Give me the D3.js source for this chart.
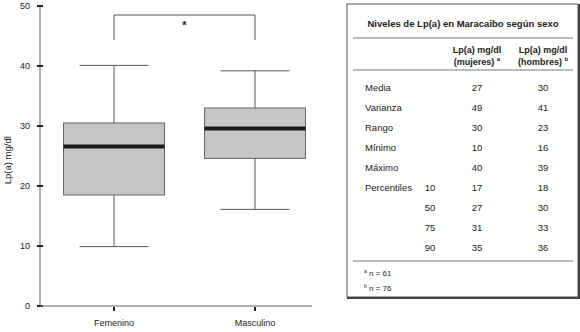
<!DOCTYPE html>
<html>
<head>
<meta charset="utf-8">
<script src="https://cdn.jsdelivr.net/npm/d3@7"></script>
<style>
	body { margin: 0; background: #fff; }
	svg { font-family: "Liberation Sans", Arial, sans-serif; }
</style>
</head>
<body>
<div id="chart"></div>
<script>
// box plot data (Lp(a) mg/dl)
const categories = ["Femenino", "Masculino"];
const whiskerLow = [9.9, 16.1];
const q1 = [18.5, 24.6];
const medians = [26.6, 29.6];
const q3 = [30.5, 33.0];
const whiskerHigh = [40.1, 39.2];
const yTicks = [0, 10, 20, 30, 40, 50];

// table data
const tableTitle = "Niveles de Lp(a) en Maracaibo según sexo";
const rowLabels = ["Media", "Varianza", "Rango", "Mínimo", "Máximo", "Percentiles", "", "", ""];
const percentileLabels = ["", "", "", "", "", "10", "50", "75", "90"];
const mujeres = [27, 49, 30, 10, 40, 17, 27, 31, 35];
const hombres = [30, 41, 23, 16, 39, 18, 30, 33, 36];
const footnotes = [["a", "n = 61"], ["b", "n = 76"]];

const svg = d3.select("#chart")
	.append("svg")
	.attr("width", 580)
	.attr("height", 332);

const y = d3.scaleLinear().domain([0, 50]).range([306, 6]);
const x = d3.scalePoint().domain(categories).range([114, 255]);
const boxHalf = 50.5, capHalf = 34.5;
const axisColor = "#666";

// y axis
svg.append("line")
	.attr("x1", 40).attr("x2", 40)
	.attr("y1", y(50)).attr("y2", y(0))
	.attr("stroke", axisColor);
svg.selectAll(".ytick")
	.data(yTicks)
	.enter()
	.append("line")
	.attr("x1", 37).attr("x2", 43)
	.attr("y1", d => y(d)).attr("y2", d => y(d))
	.attr("stroke", "#222").attr("stroke-width", 2);
svg.selectAll(".ylab")
	.data(yTicks)
	.enter()
	.append("text")
	.attr("x", 30).attr("y", d => y(d) + 3)
	.attr("text-anchor", "end")
	.attr("font-size", 9)
	.attr("fill", "#222")
	.text(d => d);

svg.append("text")
	.attr("transform", "translate(11," + y(24.3) + ") rotate(-90)")
	.attr("text-anchor", "middle")
	.attr("font-size", 9.5)
	.attr("fill", "#222")
	.text("Lp(a) mg/dl");

// x axis
svg.append("line")
	.attr("x1", 40).attr("x2", 312)
	.attr("y1", y(0)).attr("y2", y(0))
	.attr("stroke", axisColor).attr("stroke-width", 1.2);
svg.selectAll(".xtick")
	.data(categories)
	.enter()
	.append("line")
	.attr("x1", d => x(d)).attr("x2", d => x(d))
	.attr("y1", y(0) + 1).attr("y2", y(0) + 5)
	.attr("stroke", "#222").attr("stroke-width", 2);
svg.selectAll(".xlab")
	.data(categories)
	.enter()
	.append("text")
	.attr("x", d => x(d)).attr("y", 326)
	.attr("text-anchor", "middle")
	.attr("font-size", 9)
	.attr("fill", "#222")
	.text(d => d);

// boxes
const boxes = svg.selectAll(".box")
	.data(categories)
	.enter()
	.append("g");

boxes.append("line")
	.attr("x1", d => x(d)).attr("x2", d => x(d))
	.attr("y1", (d, i) => y(whiskerHigh[i])).attr("y2", (d, i) => y(whiskerLow[i]))
	.attr("stroke", "#555");
boxes.append("line")
	.attr("x1", d => x(d) - capHalf).attr("x2", d => x(d) + capHalf)
	.attr("y1", (d, i) => y(whiskerHigh[i])).attr("y2", (d, i) => y(whiskerHigh[i]))
	.attr("stroke", "#555");
boxes.append("line")
	.attr("x1", d => x(d) - capHalf).attr("x2", d => x(d) + capHalf)
	.attr("y1", (d, i) => y(whiskerLow[i])).attr("y2", (d, i) => y(whiskerLow[i]))
	.attr("stroke", "#555");
boxes.append("rect")
	.attr("x", d => x(d) - boxHalf)
	.attr("width", boxHalf * 2)
	.attr("y", (d, i) => y(q3[i]))
	.attr("height", (d, i) => y(q1[i]) - y(q3[i]))
	.attr("fill", "#c6c6c6")
	.attr("stroke", "#666");
boxes.append("line")
	.attr("x1", d => x(d) - boxHalf).attr("x2", d => x(d) + boxHalf)
	.attr("y1", (d, i) => y(medians[i])).attr("y2", (d, i) => y(medians[i]))
	.attr("stroke", "#1a1a1a").attr("stroke-width", 4);

// significance bracket
const bracketTop = 15, bracketBottom = 40;
svg.append("path")
	.attr("d", "M" + x(categories[0]) + "," + bracketBottom + "V" + bracketTop +
		"H" + x(categories[1]) + "V" + bracketBottom)
	.attr("fill", "none")
	.attr("stroke", "#555");
svg.append("text")
	.attr("x", (x(categories[0]) + x(categories[1])) / 2)
	.attr("y", 29)
	.attr("text-anchor", "middle")
	.attr("font-size", 11)
	.attr("font-weight", "bold")
	.attr("fill", "#222")
	.text("*");

// table
const tbl = svg.append("g");
tbl.append("rect")
	.attr("x", 347).attr("y", 4)
	.attr("width", 231).attr("height", 293)
	.attr("fill", "#fff")
	.attr("stroke", "#555").attr("stroke-width", 1);
tbl.append("line")
	.attr("x1", 347).attr("x2", 579).attr("y1", 298).attr("y2", 298)
	.attr("stroke", "#444").attr("stroke-width", 2);
tbl.append("line")
	.attr("x1", 579).attr("x2", 579).attr("y1", 4).attr("y2", 299)
	.attr("stroke", "#444").attr("stroke-width", 2);

tbl.append("text")
	.attr("x", 463).attr("y", 27)
	.attr("text-anchor", "middle")
	.attr("font-size", 9.5).attr("font-weight", "bold")
	.attr("fill", "#222")
	.text(tableTitle);

[38, 70, 261].forEach(ly => {
	tbl.append("line")
		.attr("x1", 353).attr("x2", 573)
		.attr("y1", ly).attr("y2", ly)
		.attr("stroke", "#777").attr("stroke-width", 1);
});

const colX = [477, 543];
const headers = [["(mujeres)", "a"], ["(hombres)", "b"]];
colX.forEach((cx, i) => {
	tbl.append("text")
		.attr("x", cx).attr("y", 53)
		.attr("text-anchor", "middle")
		.attr("font-size", 9).attr("font-weight", "bold")
		.attr("fill", "#222")
		.text("Lp(a) mg/dl");
	const t = tbl.append("text")
		.attr("x", cx).attr("y", 65)
		.attr("text-anchor", "middle")
		.attr("font-size", 9).attr("font-weight", "bold")
		.attr("fill", "#222");
	t.append("tspan").text(headers[i][0] + " ");
	t.append("tspan").attr("font-size", 6).attr("dy", -4).text(headers[i][1]);
});

const rowY = d3.scaleLinear().domain([0, 8]).range([91, 251]);
const rows = tbl.selectAll(".row")
	.data(rowLabels)
	.enter()
	.append("g");
rows.append("text")
	.attr("x", 365).attr("y", (d, i) => rowY(i))
	.attr("font-size", 9.5).attr("fill", "#222")
	.text(d => d);
rows.append("text")
	.attr("x", 430).attr("y", (d, i) => rowY(i))
	.attr("text-anchor", "middle")
	.attr("font-size", 9.5).attr("fill", "#222")
	.text((d, i) => percentileLabels[i]);
rows.append("text")
	.attr("x", colX[0]).attr("y", (d, i) => rowY(i))
	.attr("text-anchor", "middle")
	.attr("font-size", 9.5).attr("fill", "#222")
	.text((d, i) => mujeres[i]);
rows.append("text")
	.attr("x", colX[1]).attr("y", (d, i) => rowY(i))
	.attr("text-anchor", "middle")
	.attr("font-size", 9.5).attr("fill", "#222")
	.text((d, i) => hombres[i]);

footnotes.forEach((f, i) => {
	const t = tbl.append("text")
		.attr("x", 364).attr("y", 276 + i * 15)
		.attr("font-size", 8).attr("fill", "#222");
	t.append("tspan").attr("font-size", 5).attr("dy", -3).text(f[0]);
	t.append("tspan").attr("dy", 3).text(" " + f[1]);
});
</script>
</body>
</html>
